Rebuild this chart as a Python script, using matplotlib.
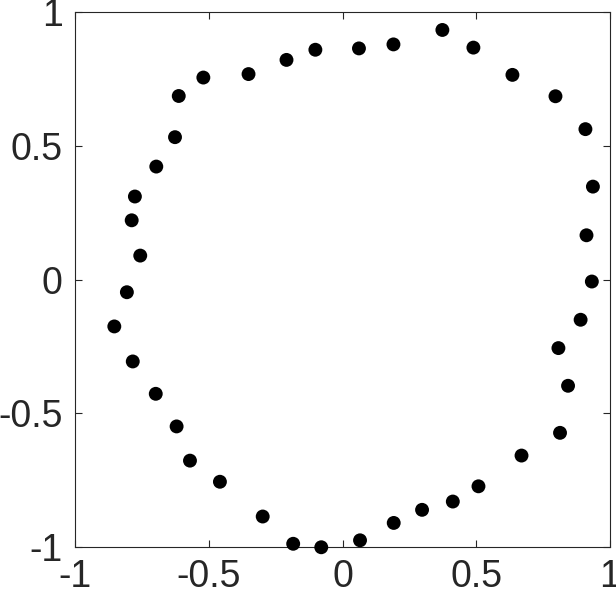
import numpy as np
import matplotlib
matplotlib.use("Agg")
import matplotlib.pyplot as plt

# point coordinates
x = [-0.807, -0.757, -0.789, -0.777, -0.697, -0.627, -0.613, -0.521, -0.352, -0.210,
     -0.102, 0.061, 0.190, 0.373, 0.489, 0.635, 0.796, 0.908, 0.936, 0.912,
     0.932, 0.890, 0.807, 0.843, 0.813, 0.669, 0.508, 0.412, 0.297, 0.191,
     0.065, -0.080, -0.185, -0.299, -0.459, -0.571, -0.621, -0.699, -0.785, -0.854]
y = [-0.047, 0.090, 0.222, 0.311, 0.423, 0.533, 0.687, 0.756, 0.769, 0.822,
     0.860, 0.865, 0.880, 0.934, 0.868, 0.766, 0.686, 0.563, 0.348, 0.166,
     -0.007, -0.150, -0.256, -0.397, -0.573, -0.658, -0.773, -0.830, -0.861, -0.910,
     -0.975, -1.001, -0.988, -0.886, -0.756, -0.677, -0.549, -0.427, -0.306, -0.175]
ticks = [-1, -0.5, 0, 0.5, 1]
tick_labels = ['-1', '-0.5', '0', '0.5', '1']

plt.rcParams['font.family'] = ['Liberation Sans', 'DejaVu Sans']

fig = plt.figure(figsize=(6.16, 5.98), dpi=100)
ax = fig.add_axes([0.1222, 0.0853, 0.8681, 0.8941])

ax.scatter(x, y, s=100, c='black', edgecolors='none', clip_on=False, zorder=3)

ax.set_xlim(-1, 1)
ax.set_ylim(-1, 1)
ax.set_xticks(ticks)
ax.set_xticklabels(tick_labels)
ax.set_yticks(ticks)
ax.set_yticklabels(tick_labels)

col = '#262626'
for sp in ax.spines.values():
    sp.set_color(col)
    sp.set_linewidth(0.8)
ax.tick_params(direction='in', length=5, width=0.8, color=col, labelcolor=col,
               labelsize=27, top=True, right=True)
ax.tick_params(axis='x', pad=9)
ax.tick_params(axis='y', pad=9)

plt.savefig('out.png', dpi=100)
